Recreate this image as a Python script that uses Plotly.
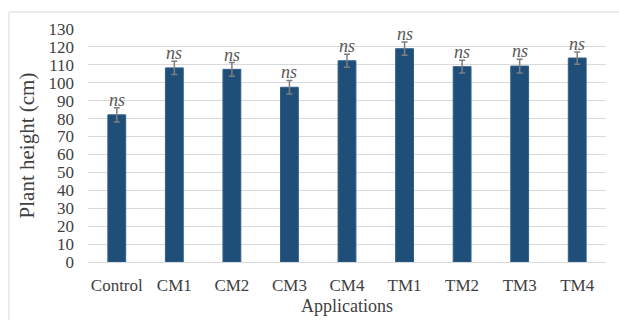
import plotly.graph_objects as go

# Mean plant height per application with standard error
applications = ["Control", "CM1", "CM2", "CM3", "CM4", "TM1", "TM2", "TM3", "TM4"]
plant_height = [82.1, 108.3, 107.5, 97.5, 112.3, 119.0, 109.0, 109.3, 113.8]
std_error = [4.0, 3.7, 3.8, 3.8, 3.6, 3.7, 3.6, 3.8, 3.4]
significance = ["ns"] * len(applications)
y_ticks = list(range(0, 131, 10))

FONT = "Liberation Serif"
TEXT = "#404040"

fig = go.Figure()
fig.add_trace(go.Bar(
    x=applications,
    y=plant_height,
    width=0.31,
    marker=dict(color="#1F4E79", line=dict(color="#2F5F8C", width=1)),
    error_y=dict(type="data", array=std_error, visible=True,
                 color="#7F7F7F", thickness=1.5, width=3),
))

for app, h, e, s in zip(applications, plant_height, std_error, significance):
    fig.add_annotation(x=app, y=h + e, text=f"<i>{s}</i>", showarrow=False,
                       yanchor="bottom", yshift=-4,
                       font=dict(family=FONT, size=18, color="#595959"))

# x-axis title placed just under the category labels
fig.add_annotation(x=0.5, y=-0.19, xref="paper", yref="paper",
                   text="Applications", showarrow=False,
                   xanchor="center", yanchor="middle",
                   font=dict(family=FONT, size=18, color=TEXT))

# light frame around the chart area
fig.add_shape(type="rect", xref="paper", yref="paper",
              x0=-0.1525, x1=1.04, y0=-0.3, y1=1.073,
              line=dict(color="#D9D9D9", width=1), layer="below")

fig.update_layout(
    width=619, height=320,
    margin=dict(l=88, r=13, t=29, b=58, autoexpand=False),
    paper_bgcolor="white", plot_bgcolor="white",
    showlegend=False,
    font=dict(family=FONT, color=TEXT),
    xaxis=dict(
        tickfont=dict(size=17, color=TEXT), automargin=False,
        showgrid=False, showline=True, linecolor="#D9D9D9", linewidth=1,
        ticks="", ticklabelstandoff=8,
    ),
    yaxis=dict(
        title=dict(text="Plant height (cm)", font=dict(size=21, color=TEXT), standoff=8),
        range=[0, 130], tickvals=y_ticks, automargin=False,
        tickfont=dict(size=17, color=TEXT),
        showgrid=True, gridcolor="#D9D9D9", gridwidth=1,
        zeroline=False, showline=False, ticks="", ticklabelstandoff=13,
    ),
)

fig.write_html("out.html")
